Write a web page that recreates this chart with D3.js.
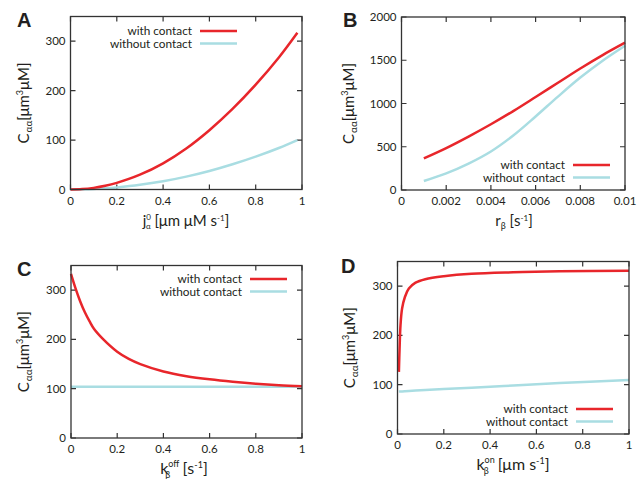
<html>
<head>
    <script src="https://d3js.org/d3.v7.min.js" charset="utf-8"></script>
    <style>
        body { margin: 0; background: #fff; }
        text { font-family: Lato, "Open Sans", sans-serif; fill: #231f20; }
    </style>
</head>

<body>
    <script type="text/javascript">
        // Panel A: C vs j0_alpha
        var aX = [0, 0.05, 0.1, 0.15, 0.2, 0.3, 0.4, 0.5, 0.6, 0.7, 0.8, 0.9, 0.98];
        var aWith = [0, 0.8, 3.3, 7.5, 13.5, 30, 53, 83, 120, 163, 212, 267, 317];
        var aWithout = [0, 0.3, 1, 2.3, 4.2, 9.4, 16.6, 26, 37.4, 51, 66.5, 84, 100];

        // Panel B: C vs r_beta
        var bX = [0.001, 0.002, 0.003, 0.004, 0.005, 0.006, 0.007, 0.008, 0.009, 0.01];
        var bWith = [366, 485, 618, 760, 912, 1075, 1240, 1405, 1560, 1703];
        var bWithout = [104, 192, 305, 445, 630, 850, 1080, 1300, 1495, 1668];

        // Panel C: C vs k_off
        var cX = [0, 0.02, 0.04, 0.06, 0.08, 0.1, 0.14, 0.2, 0.25, 0.3, 0.4, 0.5, 0.6, 0.7, 0.8, 0.9, 1];
        var cWith = [333, 303, 277, 255, 237, 221, 200, 175, 160.5, 150, 135, 125.5, 119, 114, 110, 107, 105];
        var cWithout = [104, 104, 104, 104, 104, 104, 104, 104, 104, 104, 104, 104, 104, 104, 104, 104, 104];

        // Panel D: C vs k_on
        var dX = [0.006, 0.009, 0.013, 0.02, 0.032, 0.049, 0.078, 0.12, 0.2, 0.32, 0.5, 0.7, 1];
        var dWith = [126, 174, 221, 255, 278, 295, 307, 314, 320, 325, 328, 330, 331];
        var dWithout = [86, 86.1, 86.2, 86.4, 86.8, 87.3, 88.1, 89.2, 91.3, 94, 98.5, 103.5, 109.5];

        var xTicks01 = [0, 0.2, 0.4, 0.6, 0.8, 1];
        var xTicksB = [0, 0.002, 0.004, 0.006, 0.008, 0.01];
        var yTicks350 = [0, 100, 200, 300];
        var yTicksB = [0, 500, 1000, 1500, 2000];

        var legendNames = ["with contact", "without contact"];
        var red = "#e8262b";
        var blue = "#a9dde2";

        var width = 637, height = 479;
        var svg = d3.select("body").append("svg")
            .attr("width", width)
            .attr("height", height);

        var panels = [
            { letter: "A", x: aX, s1: aWith, s2: aWithout, xdom: [0, 1], ydom: [0, 350], xt: xTicks01, yt: yTicks350,
              box: [70.5, 302, 16.5, 189.5], letterPos: [17, 27], ylabX: 29, xlab: "j", legend: [192, 31], xlabX: 186 },
            { letter: "B", x: bX, s1: bWith, s2: bWithout, xdom: [0, 0.01], ydom: [0, 2000], xt: xTicksB, yt: yTicksB,
              box: [401.5, 625, 17, 190], letterPos: [343, 27], ylabX: 354, xlab: "r", legend: [565, 165], xlabX: 514 },
            { letter: "C", x: cX, s1: cWith, s2: cWithout, xdom: [0, 1], ydom: [0, 350], xt: xTicks01, yt: yTicks350,
              box: [71, 302, 265.5, 438], letterPos: [17, 276], ylabX: 29, xlab: "koff", legend: [242, 279], xlabX: 184 },
            { letter: "D", x: dX, s1: dWith, s2: dWithout, xdom: [0, 1], ydom: [0, 350], xt: xTicks01, yt: yTicks350,
              box: [397.5, 629, 261.5, 434], letterPos: [341, 273], ylabX: 355, xlab: "kon", legend: [568, 409], xlabX: 513 }
        ];

        panels.forEach(drawPanel);

        function drawPanel(p) {
            var L = p.box[0], R = p.box[1], T = p.box[2], B = p.box[3];
            var x = d3.scaleLinear().domain(p.xdom).range([L, R]);
            var y = d3.scaleLinear().domain(p.ydom).range([B, T]);
            var g = svg.append("g");
            var tickLen = 5;
            var axisColor = "#333";

            // ticks on all four sides, pointing inward
            g.selectAll(".xt").data(p.xt).join("path")
                .attr("d", d => "M" + x(d) + "," + B + "v" + (-tickLen) + "M" + x(d) + "," + T + "v" + tickLen)
                .attr("stroke", axisColor).attr("stroke-width", 1.2);
            g.selectAll(".yt").data(p.yt).join("path")
                .attr("d", d => "M" + L + "," + y(d) + "h" + tickLen + "M" + R + "," + y(d) + "h" + (-tickLen))
                .attr("stroke", axisColor).attr("stroke-width", 1.2);

            // tick labels
            g.selectAll(".xl").data(p.xt).join("text")
                .attr("x", d => x(d)).attr("y", B + 15)
                .attr("text-anchor", "middle").attr("font-size", 11.5)
                .text(d => d);
            g.selectAll(".yl").data(p.yt).join("text")
                .attr("x", L - 5).attr("y", d => y(d) + 4)
                .attr("text-anchor", "end").attr("font-size", 11.5)
                .text(d => d);

            // lines
            var line1 = d3.line().x((d, i) => x(p.x[i])).y(d => y(d)).curve(d3.curveCatmullRom.alpha(0.5));
            g.append("path").attr("d", line1(p.s2)).attr("fill", "none")
                .attr("stroke", blue).attr("stroke-width", 2.5);
            g.append("path").attr("d", line1(p.s1)).attr("fill", "none")
                .attr("stroke", red).attr("stroke-width", 2.5);

            // frame
            g.append("rect").attr("x", L).attr("y", T).attr("width", R - L).attr("height", B - T)
                .attr("fill", "none").attr("stroke", axisColor).attr("stroke-width", 1.3);

            // legend
            var lg = g.append("g");
            [red, blue].forEach(function(c, i) {
                var ly = p.legend[1] + i * 12.5;
                lg.append("text").attr("x", p.legend[0]).attr("y", ly + 4)
                    .attr("text-anchor", "end").attr("font-size", 11.8).text(legendNames[i]);
                lg.append("line").attr("x1", p.legend[0] + 8).attr("x2", p.legend[0] + 45)
                    .attr("y1", ly).attr("y2", ly).attr("stroke", c).attr("stroke-width", 2.5);
            });

            // panel letter
            svg.append("text").attr("x", p.letterPos[0]).attr("y", p.letterPos[1])
                .attr("font-size", 20).attr("font-weight", "bold")
                .style("font-family", "Arial, 'Liberation Sans', sans-serif")
                .text(p.letter);

            // y label
            var cy = (T + B) / 2;
            var yl = svg.append("text")
                .attr("transform", "translate(" + p.ylabX + "," + cy + ") rotate(-90)")
                .attr("text-anchor", "middle").attr("font-size", 15);
            yl.append("tspan").text("C");
            yl.append("tspan").attr("font-size", 10).attr("dx", 1).attr("dy", 3).text("\u03B1\u03B1");
            yl.append("tspan").attr("dy", -3).text("[\u03BCm");
            yl.append("tspan").attr("font-size", 9).attr("dy", -6).text("3");
            yl.append("tspan").attr("dy", 6).text("\u03BCM]");

            // x label
            var xl = svg.append("text").attr("x", p.xlabX).attr("y", B + 36)
                .attr("text-anchor", "middle").attr("font-size", 15);
            if (p.xlab === "j") {
                xl.append("tspan").text("j");
                xl.append("tspan").attr("font-size", 8).attr("dy", -6).text("0");
                xl.append("tspan").attr("font-size", 8).attr("dx", -5).attr("dy", 9).text("\u03B1");
                xl.append("tspan").attr("dy", -3).text(" [\u03BCm \u03BCM s");
                xl.append("tspan").attr("font-size", 8).attr("dy", -5).text("-1");
                xl.append("tspan").attr("dy", 5).text("]");
            } else if (p.xlab === "r") {
                xl.append("tspan").text("r");
                xl.append("tspan").attr("font-size", 9).attr("dy", 3).text("\u03B2");
                xl.append("tspan").attr("dy", -3).text("  [s");
                xl.append("tspan").attr("font-size", 8).attr("dy", -5).text("-1");
                xl.append("tspan").attr("dy", 5).text("]");
            } else {
                var sup = p.xlab === "koff" ? "off" : "on";
                var unit = p.xlab === "koff" ? " [s" : " [\u03BCm s";
                xl.attr("font-size", 16);
                xl.append("tspan").text("k");
                xl.append("tspan").attr("font-size", 9).attr("dy", -7).text(sup);
                xl.append("tspan").attr("font-size", 9).attr("dx", p.xlab === "koff" ? -14 : -11).attr("dy", 11).text("\u03B2");
                xl.append("tspan").attr("dx", p.xlab === "koff" ? 8 : 5).attr("dy", -4).text(unit);
                xl.append("tspan").attr("font-size", 9).attr("dy", -6).text("-1");
                xl.append("tspan").attr("dy", 6).text("]");
            }
        }
    </script>
</body>

</html>
